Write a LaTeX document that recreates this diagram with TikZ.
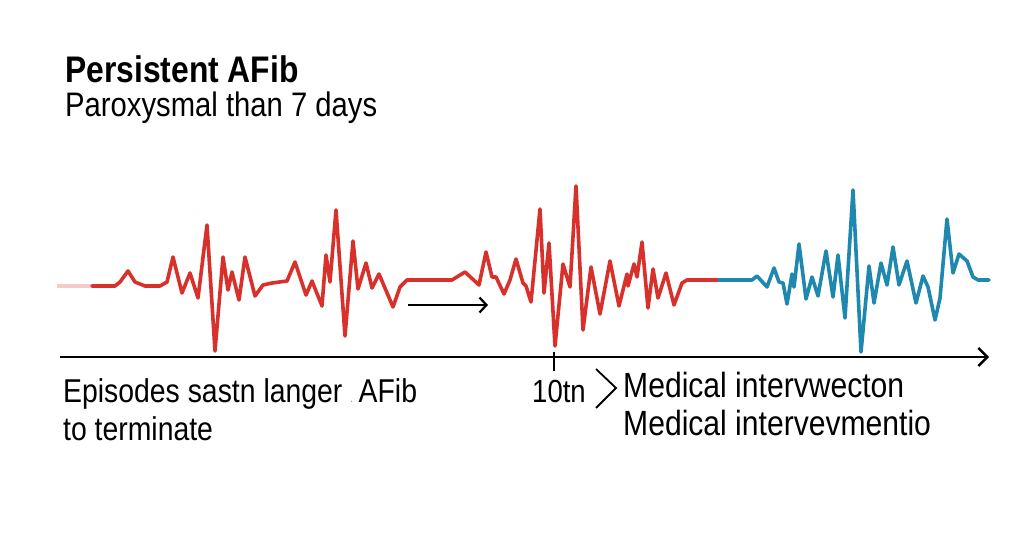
\documentclass[tikz,border=0pt]{standalone}
\usepackage{fontspec}
\setmainfont{Liberation Sans}[FakeStretch=0.86]
\usepackage{xcolor}
\usepackage{tikz}
\usetikzlibrary{arrows.meta, positioning, calc}

\definecolor{ecgred}{HTML}{D8302B}
\definecolor{ecgblue}{HTML}{1F88AE}

\begin{document}
\begin{tikzpicture}[x=1pt, y=-1pt]
        \tikzstyle{wave} = [line width=3.6pt, line join=round, line cap=round]
        \tikzstyle{label} = [inner sep=0pt, anchor=base west]
        \tikzstyle{axis} = [draw, line width=2.4pt, -{Straight Barb[length=9pt, width=18pt, line width=2.4pt]}]

        \useasboundingbox (0,0) rectangle (1024,559);
        \fill[white] (0,0) rectangle (1024,559);

        % heading
        \node [label, font=\fontsize{37}{40}\selectfont\bfseries] (title) at (65,83) {Persistent AFib};
        \node [label, font=\fontsize{34}{36}\selectfont] (subtitle) at (65,117) {Paroxysmal than 7 days};

        % trace
        \draw [wave, ecgred!25, line cap=butt] (57,286) -- (92,286);
        \draw [wave, ecgred] (92,286) -- (115,286) -- (120,282) -- (128,271) -- (135,282) -- (145,286)
            -- (160,286) -- (167,282) -- (173,257) -- (182,293) -- (190,273) -- (198,298)
            -- (207,225) -- (215,351) -- (223,257) -- (228,290) -- (232,272) -- (239,300)
            -- (245,257) -- (255,296) -- (263,285) -- (272,283) -- (287,281) -- (295,262)
            -- (306,295) -- (312,281) -- (322,306) -- (326,255) -- (330,282) -- (336,210)
            -- (345,336) -- (353,241) -- (358,289) -- (366,263) -- (372,288) -- (379,274)
            -- (393,307) -- (400,287) -- (407,280) -- (452,280) -- (465,272) -- (479,285)
            -- (486,252) -- (492,277) -- (496,277) -- (504,294) -- (510,280) -- (516,259)
            -- (523,283) -- (526,286) -- (531,302) -- (540,209) -- (544,293) -- (549,243)
            -- (555,346) -- (563,264) -- (570,287) -- (576,186) -- (583,330) -- (591,267)
            -- (600,314) -- (610,261) -- (619,306) -- (627,274) -- (628,286) -- (634,264)
            -- (637,277) -- (642,242) -- (648,308) -- (653,269) -- (658,298) -- (666,273)
            -- (674,305) -- (682,283) -- (687,280) -- (719,280);
        \draw [wave, ecgblue] (719,280) -- (752,280) -- (757,276) -- (767,287) -- (774,268)
            -- (779,282) -- (783,283) -- (787,304) -- (792,274) -- (794,287) -- (799,244)
            -- (806,299) -- (812,277) -- (818,296) -- (826,251) -- (833,297) -- (838,255)
            -- (845,318) -- (853,190) -- (861,352) -- (869,266) -- (874,303) -- (881,263)
            -- (887,285) -- (893,247) -- (899,285) -- (907,261) -- (916,303) -- (923,276)
            -- (928,287) -- (935,320) -- (940,298) -- (947,219) -- (953,273) -- (959,254)
            -- (967,261) -- (973,277) -- (978,280) -- (989,280);

        % time axis
        \coordinate (start) at (60,357);
        \coordinate (end) at (989,357);
        \coordinate (tick) at (554,357);
        \path [axis] (start) -- (end);
        \draw [line width=1.8pt] ($(tick)+(0,-5)$) -- ($(tick)+(0,14)$);

        % small arrow
        \coordinate (from) at (408,305);
        \coordinate (to) at (488,305);
        \draw [line width=2.2pt, -{Straight Barb[length=7pt, width=15pt, line width=2.2pt]}] (from) -- (to);

        % captions
        \node [label, font=\fontsize{33}{38}\selectfont] (episodes) at (63,402)
            {Episodes sastn langer {\color{black!40}\fontsize{12}{12}\selectfont.}\,AFib};
        \node [label, font=\fontsize{33}{38}\selectfont] (terminate) at (63,440) {to terminate};
        \node [label, font=\fontsize{32}{36}\selectfont] (tenth) at (532,402) {10tn};
        \coordinate (ctop) at (596,369);
        \coordinate (ctip) at (616,388);
        \coordinate (cbot) at (596,408);
        \draw [line width=1.8pt] (ctop) -- (ctip) -- (cbot);
        \node [label, font=\fontsize{35}{40}\selectfont] (medical) at (623,397) {Medical intervwecton};
        \node [label, font=\fontsize{35}{40}\selectfont] (medical2) at (623,435) {Medical intervevmentio};
\end{tikzpicture}
\end{document}
